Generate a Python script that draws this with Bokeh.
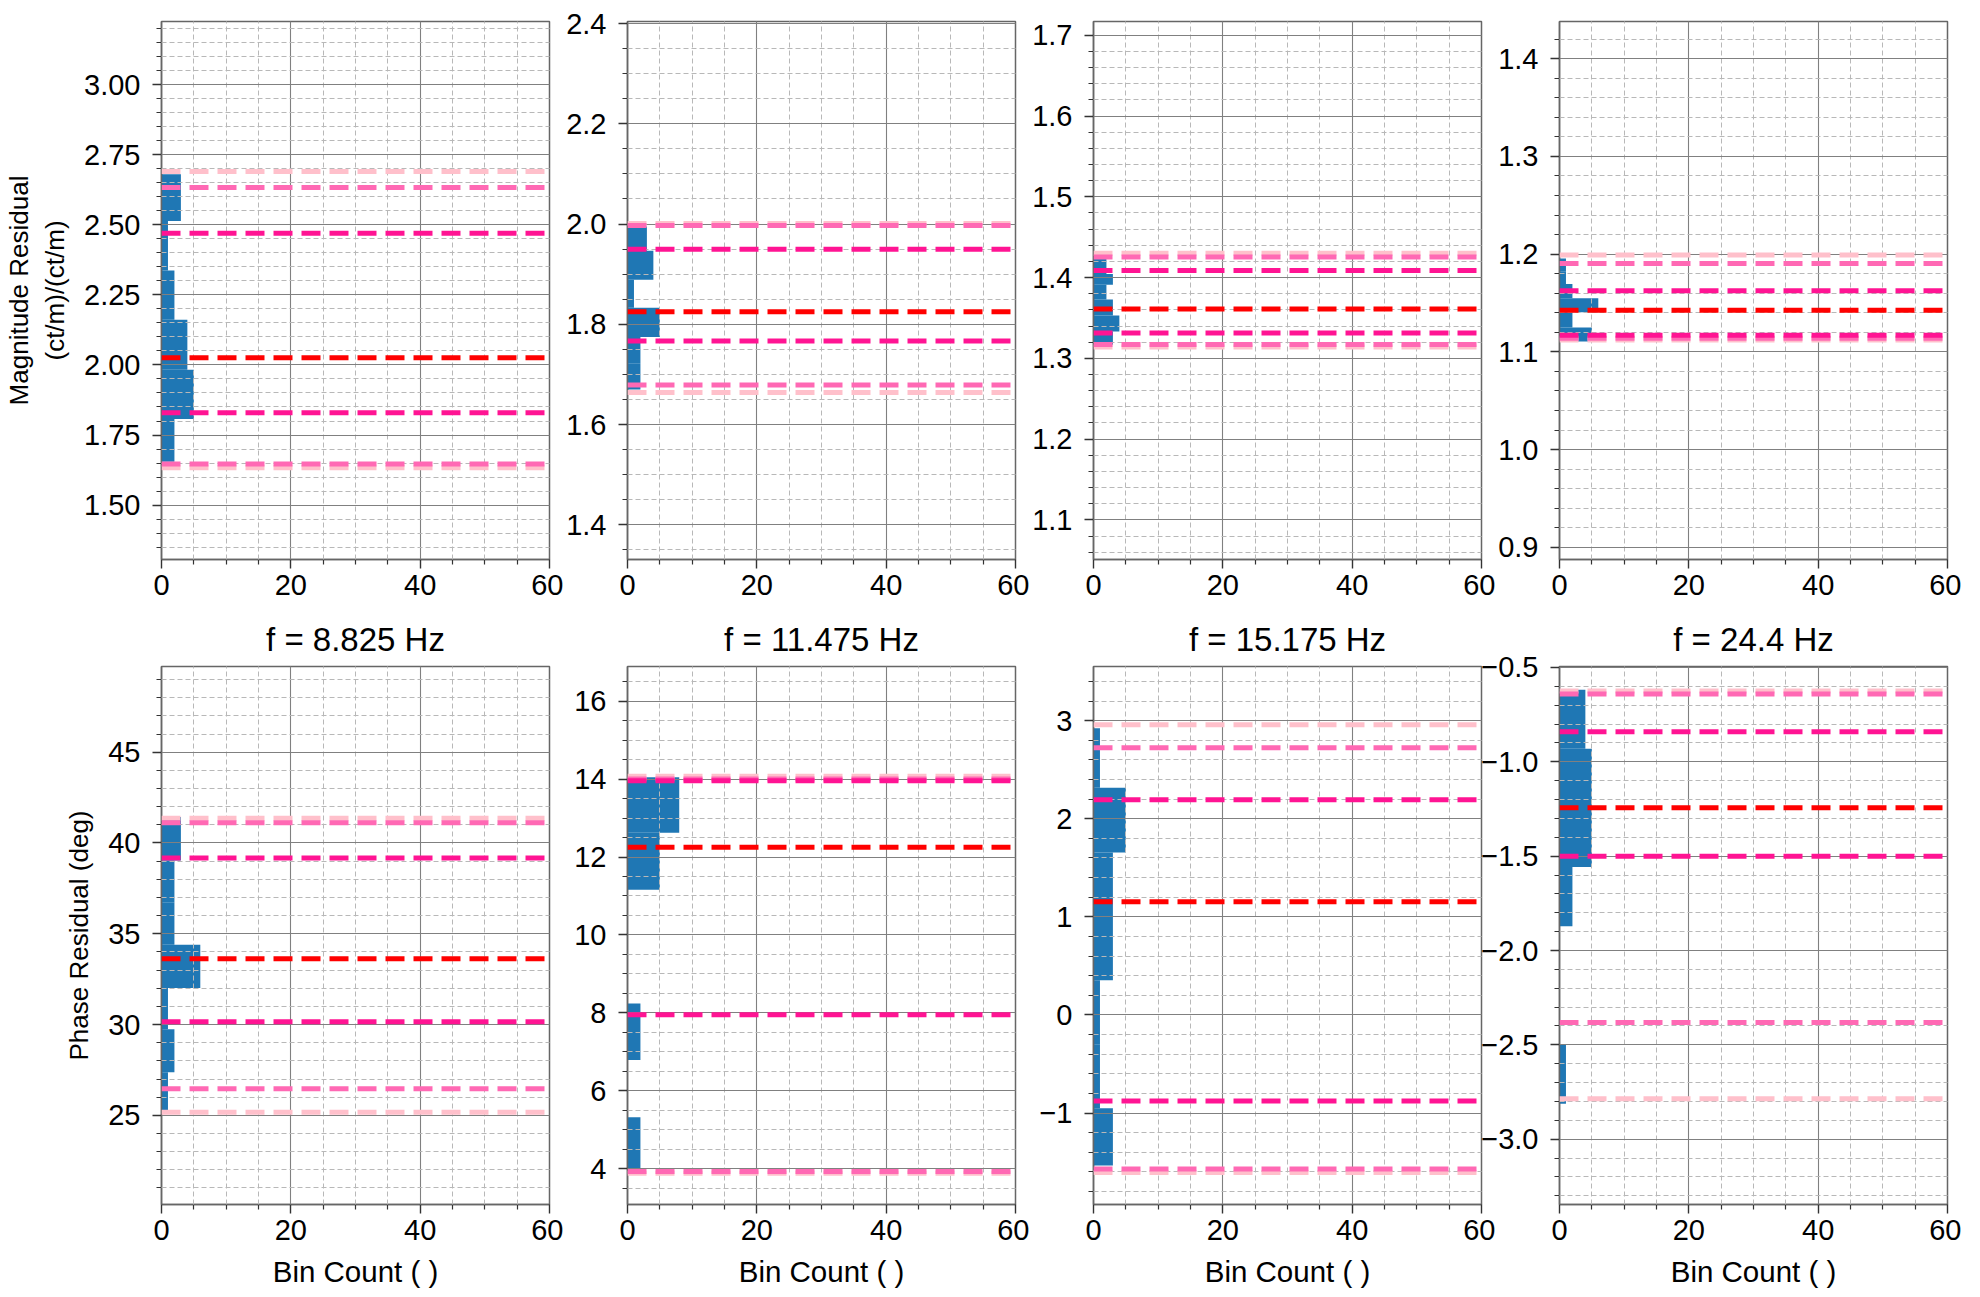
import numpy as np
from bokeh.plotting import figure
from bokeh.layouts import row, column
from bokeh.models import Range1d, FixedTicker, Span
from bokeh.embed import file_html
from bokeh.resources import INLINE

FONT = "Liberation Sans"

frequencies = ["8.825", "11.475", "15.175", "24.4"]

# ---- Magnitude residual histograms (bin edges, counts) ----
mag_edges_1 = [1.655, 1.807, 1.983, 2.161, 2.337, 2.513, 2.680]
mag_counts_1 = [2, 5, 4, 2, 1, 3]
mag_edges_2 = [1.670, 1.7225, 1.775, 1.833, 1.889, 1.947, 1.995]
mag_counts_2 = [2, 2, 5, 1, 4, 3]
mag_edges_3 = [1.3169, 1.3334, 1.353, 1.3728, 1.391, 1.4045, 1.4231]
mag_counts_3 = [3, 4, 3, 2, 3, 2]
mag_edges_4 = [1.1105, 1.1248, 1.1405, 1.1548, 1.1694, 1.1825, 1.1956]
mag_counts_4 = [5, 2, 6, 2, 1, 1]

# ---- Phase residual histograms (bin edges, counts) ----
pha_edges_1 = [25.29, 27.37, 29.74, 32.02, 34.39, 36.71, 39.03, 41.43]
pha_counts_1 = [1, 2, 1, 6, 2, 2, 3]
pha_edges_2 = [3.99, 5.32, 6.79, 8.24, 9.70, 11.16, 12.62, 14.05]
pha_counts_2 = [2, 0, 2, 0, 0, 5, 8]
pha_edges_3 = [-1.534, -0.950, -0.299, 0.353, 1.005, 1.656, 2.317, 2.923]
pha_counts_3 = [3, 1, 1, 3, 3, 5, 1]
pha_edges_4 = [-2.812, -2.499, -2.185, -1.872, -1.558, -1.245, -0.931, -0.618]
pha_counts_4 = [1, 0, 0, 2, 5, 5, 4]

# ---- percentile lines: [lo3, lo2, lo1, median, hi1, hi2, hi3] ----
mag_lines_1 = [1.633, 1.647, 1.829, 2.026, 2.470, 2.633, 2.690]
mag_lines_2 = [1.664, 1.679, 1.767, 1.825, 1.950, 1.997, 2.001]
mag_lines_3 = [1.314, 1.317, 1.3315, 1.3612, 1.4087, 1.4256, 1.430]
mag_lines_4 = [1.1122, 1.114, 1.117, 1.1425, 1.1626, 1.1905, 1.199]
pha_lines_1 = [25.17, 26.47, 30.16, 33.63, 39.18, 41.11, 41.36]
pha_lines_2 = [3.88, 3.93, 7.95, 12.25, 13.96, 14.00, 14.07]
pha_lines_3 = [-1.606, -1.57, -0.878, 1.154, 2.195, 2.724, 2.959]
pha_lines_4 = [-2.786, -2.381, -1.500, -1.243, -0.841, -0.641, -0.6246]
line_colors = ["#ffc0cb", "#ff69b4", "#ff1493", "#ff0000", "#ff1493", "#ff69b4", "#ffc0cb"]
draw_order = [0, 6, 1, 5, 2, 4, 3]

# ---- axes ----
x_major = [0, 20, 40, 60]
x_labels = ["0", "20", "40", "60"]
x_minor_step = 5

mag_ylims = [(1.306, 3.225), (1.331, 2.404), (1.051, 1.717), (0.8875, 1.438)]
mag_major = [[1.50, 1.75, 2.00, 2.25, 2.50, 2.75, 3.00],
             [1.4, 1.6, 1.8, 2.0, 2.2, 2.4],
             [1.1, 1.2, 1.3, 1.4, 1.5, 1.6, 1.7],
             [0.9, 1.0, 1.1, 1.2, 1.3, 1.4]]
mag_labels = [["1.50", "1.75", "2.00", "2.25", "2.50", "2.75", "3.00"],
              ["1.4", "1.6", "1.8", "2.0", "2.2", "2.4"],
              ["1.1", "1.2", "1.3", "1.4", "1.5", "1.6", "1.7"],
              ["0.9", "1.0", "1.1", "1.2", "1.3", "1.4"]]
mag_minor_step = [0.05, 0.05, 0.02, 0.02]

pha_ylims = [(20.09, 49.72), (3.08, 16.89), (-1.932, 3.552), (-3.346, -0.495)]
pha_major = [[25, 30, 35, 40, 45],
             [4, 6, 8, 10, 12, 14, 16],
             [-1, 0, 1, 2, 3],
             [-3.0, -2.5, -2.0, -1.5, -1.0, -0.5]]
pha_labels = [["25", "30", "35", "40", "45"],
              ["4", "6", "8", "10", "12", "14", "16"],
              ["\u22121", "0", "1", "2", "3"],
              ["\u22123.0", "\u22122.5", "\u22122.0", "\u22121.5", "\u22121.0", "\u22120.5"]]
pha_minor_step = [1, 0.5, 0.2, 0.1]

mag_edges = [mag_edges_1, mag_edges_2, mag_edges_3, mag_edges_4]
mag_counts = [mag_counts_1, mag_counts_2, mag_counts_3, mag_counts_4]
mag_lines = [mag_lines_1, mag_lines_2, mag_lines_3, mag_lines_4]
pha_edges = [pha_edges_1, pha_edges_2, pha_edges_3, pha_edges_4]
pha_counts = [pha_counts_1, pha_counts_2, pha_counts_3, pha_counts_4]
pha_lines = [pha_lines_1, pha_lines_2, pha_lines_3, pha_lines_4]

FRAME_W, FRAME_H = 388, 538
GAP = 78


def minor_ticks(lo, hi, step, majors):
    start = np.ceil(lo / step) * step
    vals = np.arange(start, hi + 1e-9, step)
    out = []
    for v in vals:
        if all(abs(v - m) > step * 1e-3 for m in majors):
            out.append(float(round(v, 6)))
    return out


def make_panel(edges, counts, lines, ylim, majors, labels, mstep, col, bottom,
               ylabel=None, title=None):
    L = 161 if col == 0 else 94
    R = 14
    T = 57 if bottom else 21
    B = 93 if bottom else 50
    kw = dict(frame_width=FRAME_W, frame_height=FRAME_H,
              x_range=Range1d(0, 60), y_range=Range1d(*ylim),
              output_backend="svg", toolbar_location=None,
              min_border_left=L, min_border_right=R,
              min_border_top=T, min_border_bottom=B,
              border_fill_color=None, background_fill_color="white",
              outline_line_color="#666666", outline_line_width=1.5)
    kw["title"] = title
    if col > 0:
        kw["margin"] = (0, 0, 0, GAP - R - L)
    p = figure(**kw)

    if title is not None:
        p.title.align = "center"
        p.title.text_font = FONT
        p.title.text_font_size = "33px"
        p.title.text_font_style = "normal"
        p.title.text_color = "black"
        p.title.standoff = 18

    xt = FixedTicker(ticks=x_major,
                     minor_ticks=minor_ticks(0, 60, x_minor_step, x_major))
    yt = FixedTicker(ticks=majors,
                     minor_ticks=minor_ticks(ylim[0], ylim[1], mstep, majors))
    p.xaxis.ticker = xt
    p.yaxis.ticker = yt
    p.xgrid.ticker = xt
    p.ygrid.ticker = yt
    p.xaxis.major_label_overrides = {v: s for v, s in zip(x_major, x_labels)}
    p.yaxis.major_label_overrides = {v: s for v, s in zip(majors, labels)}

    for ax in (p.xaxis[0], p.yaxis[0]):
        ax.major_label_text_font = FONT
        ax.major_label_text_font_size = "29px"
        ax.major_label_text_color = "black"
        ax.major_tick_out = 9
        ax.major_tick_in = 0
        ax.minor_tick_out = 5
        ax.minor_tick_in = 0
        ax.major_tick_line_color = "#333333"
        ax.major_tick_line_width = 1.4
        ax.minor_tick_line_color = "#333333"
        ax.minor_tick_line_width = 1.2
        ax.axis_line_color = "#666666"
        ax.axis_line_width = 1.5
        ax.axis_label_text_font = FONT
        ax.axis_label_text_font_style = "normal"
        ax.axis_label_text_color = "black"
    p.xaxis.major_label_standoff = 6
    p.yaxis.major_label_standoff = 12

    if bottom:
        p.xaxis.axis_label = "Bin Count ( )"
        p.xaxis.axis_label_text_font_size = "29.5px"
        p.xaxis.axis_label_standoff = 12
    if ylabel is not None:
        p.yaxis.axis_label = ylabel
        p.yaxis.axis_label_text_font_size = "26px"
        p.yaxis.axis_label_standoff = 11

    for g in (p.xgrid[0], p.ygrid[0]):
        g.grid_line_color = "#808080"
        g.grid_line_width = 1.1
        g.minor_grid_line_color = "#b8b8b8"
        g.minor_grid_line_width = 1.0
        g.minor_grid_line_dash = "5 3"
        g.level = "guide"

    p.quad(left=0, right=counts, bottom=edges[:-1], top=edges[1:],
           fill_color="#1f77b4", line_color=None)

    for i in draw_order:
        p.add_layout(Span(location=lines[i], dimension="width",
                          line_color=line_colors[i], line_width=5,
                          line_dash="19 9"))
    return p


top = []
bot = []
for c in range(4):
    top.append(make_panel(mag_edges[c], mag_counts[c], mag_lines[c], mag_ylims[c],
                          mag_major[c], mag_labels[c], mag_minor_step[c], c, False,
                          ylabel="Magnitude Residual\n(ct/m)/(ct/m)" if c == 0 else None))
    bot.append(make_panel(pha_edges[c], pha_counts[c], pha_lines[c], pha_ylims[c],
                          pha_major[c], pha_labels[c], pha_minor_step[c], c, True,
                          ylabel="Phase Residual (deg)" if c == 0 else None,
                          title="f = %s Hz" % frequencies[c]))

layout = column(row(*top), row(*bot))
open("out.html", "w").write(file_html(layout, INLINE))
